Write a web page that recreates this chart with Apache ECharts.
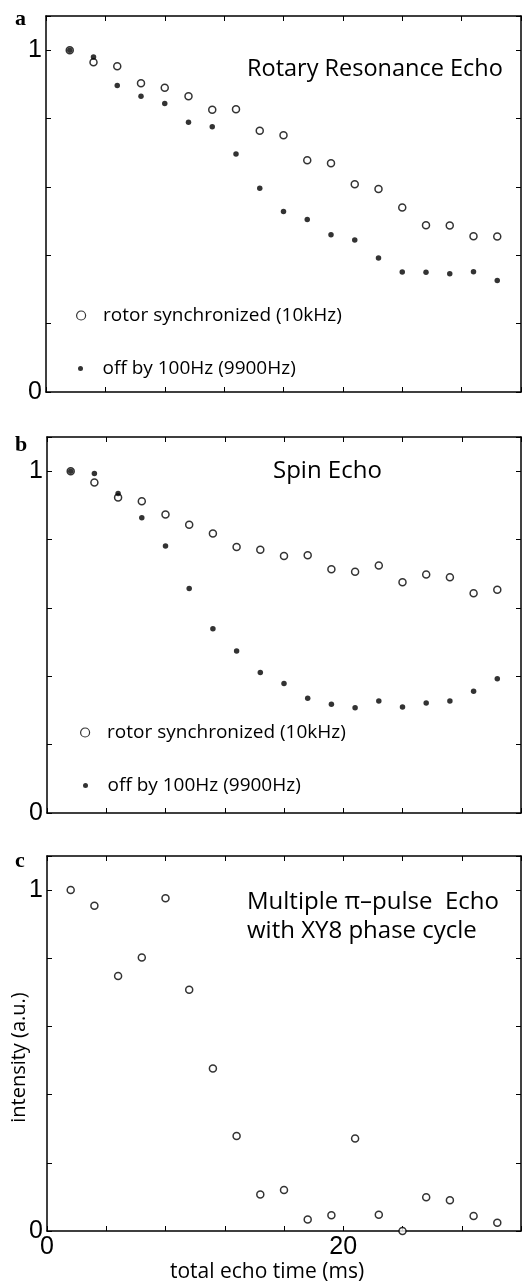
<!DOCTYPE html>
<html>
<head>
<meta charset="utf-8">
<script src="https://cdn.jsdelivr.net/npm/echarts@6/dist/echarts.min.js"></script>
<style>
  html, body { margin: 0; padding: 0; background: #fff; }
  #chart { width: 523px; height: 1283px; }
</style>
</head>
<body>
<div id="chart"></div>
<script>
// total echo time (ms)
const echoTime = [1.6, 3.2, 4.8, 6.4, 8.0, 9.6, 11.2, 12.8, 14.4, 16.0, 17.6, 19.2, 20.8, 22.4, 24.0, 25.6, 27.2, 28.8, 30.4];

// a: rotary resonance echo
const rreSync = [1.0, 0.965, 0.953, 0.903, 0.890, 0.865, 0.826, 0.827, 0.764, 0.751, 0.678, 0.669, 0.608, 0.594, 0.540, 0.488, 0.487, 0.456, 0.455];
const rreOff = [1.0, 0.980, 0.897, 0.865, 0.844, 0.789, 0.776, 0.696, 0.596, 0.528, 0.505, 0.460, 0.445, 0.392, 0.351, 0.350, 0.346, 0.352, 0.326];

// b: spin echo
const seSync = [1.0, 0.967, 0.923, 0.912, 0.873, 0.843, 0.818, 0.778, 0.770, 0.752, 0.754, 0.713, 0.706, 0.724, 0.675, 0.698, 0.690, 0.643, 0.653];
const seOff = [1.0, 0.993, 0.935, 0.864, 0.781, 0.657, 0.539, 0.474, 0.411, 0.379, 0.336, 0.318, 0.308, 0.328, 0.310, 0.322, 0.328, 0.356, 0.393];

// c: multiple pi-pulse echo, XY8
const xy8 = [1.0, 0.954, 0.748, 0.802, 0.976, 0.708, 0.477, 0.279, 0.107, 0.120, 0.034, 0.046, 0.271, 0.048, 0.0, 0.099, 0.090, 0.044, 0.024];

const syncName = "rotor synchronized (10kHz)";
const offName = "off by 100Hz (9900Hz)";
const xLabels = [0, 20];
const yLabels = [0, 1];

const pair = (ys) => echoTime.map((t, i) => [t, ys[i]]);
const near = (v, list) => list.some((l) => Math.abs(v - l) < 1e-6);

const sans = "Open Sans";
const lineStyle = { color: "#000", width: 1.5 };

const grids = [
  { left: 46, top: 16, width: 475, height: 376, outerBoundsMode: "none", containLabel: false },
  { left: 47, top: 437, width: 474, height: 376, outerBoundsMode: "none", containLabel: false },
  { left: 47, top: 856, width: 474, height: 375, outerBoundsMode: "none", containLabel: false },
];

const xAxes = [];
const yAxes = [];
grids.forEach((g, i) => {
  const last = i === 2;
  ["bottom", "top"].forEach((pos) => {
    xAxes.push({
      type: "value",
      gridIndex: i,
      position: pos,
      min: 0,
      max: 32,
      interval: 4,
      axisLine: { show: true, onZero: false, lineStyle: lineStyle },
      axisTick: { show: true, inside: true, length: 5, lineStyle: { color: "#000", width: 1 } },
      splitLine: { show: false },
      axisLabel: {
        show: last && pos === "bottom",
        margin: 4,
        color: "#000",
        fontFamily: "Liberation Sans",
        fontSize: 25,
        formatter: (v) => (near(v, xLabels) ? String(v) : ""),
      },
      name: last && pos === "bottom" ? "total echo time (ms)" : "",
      nameLocation: "middle",
      nameGap: 31,
      nameMoveOverlap: false,
      nameTextStyle: { color: "#000", fontFamily: sans, fontSize: 21, padding: [0, 34, 0, 0] },
    });
  });
  ["left", "right"].forEach((pos) => {
    yAxes.push({
      type: "value",
      gridIndex: i,
      position: pos,
      min: 0,
      max: 1.1,
      interval: 0.2,
      axisLine: { show: true, onZero: false, lineStyle: lineStyle },
      axisTick: { show: true, inside: true, length: 5, lineStyle: { color: "#000", width: 1 } },
      splitLine: { show: false },
      axisLabel: {
        show: pos === "left",
        margin: 4,
        color: "#000",
        fontFamily: "Liberation Sans",
        fontSize: 25,
        formatter: (v) => (near(v, yLabels) ? String(Math.round(v)) : ""),
      },
      name: last && pos === "left" ? "intensity (a.u.)" : "",
      nameLocation: "middle",
      nameGap: 18,
      nameMoveOverlap: false,
      nameTextStyle: { color: "#000", fontFamily: sans, fontSize: 20, padding: [0, 28, 0, 0] },
    });
  });
});

const openStyle = { color: "#fff", borderColor: "#000", borderWidth: 1.5 };
const dotStyle = { color: "#000" };

const openSeries = (name, ys, i) => ({
  name: name,
  type: "scatter",
  xAxisIndex: i * 2,
  yAxisIndex: i * 2,
  symbol: "circle",
  symbolSize: 7,
  itemStyle: openStyle,
  clip: false,
  data: pair(ys),
});
const dotSeries = (name, ys, i) => ({
  name: name,
  type: "scatter",
  xAxisIndex: i * 2,
  yAxisIndex: i * 2,
  symbol: "circle",
  symbolSize: 5.5,
  itemStyle: dotStyle,
  clip: false,
  data: pair(ys),
});

// left/top are tuned so the marker centre and text start land where the reference has them
const legendItem = (name, left, top, size, style) => ({
  data: [{ name: name, icon: "circle", itemStyle: style }],
  left: left,
  top: top,
  padding: 0,
  itemWidth: 34,
  itemHeight: size,
  selectedMode: false,
  textStyle: { color: "#000", fontFamily: sans, fontSize: 19 },
});

const titleText = (text, left, top, size, extra) => ({
  text: text,
  left: left,
  top: top,
  padding: 0,
  textStyle: Object.assign({ color: "#000", fontFamily: sans, fontWeight: "normal", fontSize: size }, extra || {}),
});
const serif = { fontFamily: "Liberation Serif", fontWeight: "bold" };

const option = {
  animation: false,
  backgroundColor: "#fff",
  grid: grids,
  xAxis: xAxes,
  yAxis: yAxes,
  title: [
    titleText("a", 15, 8, 22, serif),
    titleText("b", 15, 434, 22, serif),
    titleText("c", 15, 850, 22, serif),
    titleText("Rotary Resonance Echo", 247, 57, 23.5),
    titleText("Spin Echo", 273, 459, 24),
    titleText("Multiple \u03c0\u2013pulse  Echo\nwith XY8 phase cycle", 247, 888, 24, { lineHeight: 29 }),
  ],
  legend: [
    legendItem(syncName, 76, 306, 9, { color: "#fff", borderColor: "#000", borderWidth: 1.2 }),
    legendItem(offName, 78, 359, 5, dotStyle),
    legendItem(syncName, 80, 723, 9, { color: "#fff", borderColor: "#000", borderWidth: 1.2 }),
    legendItem(offName, 83, 776, 5, dotStyle),
  ],
  series: [
    openSeries(syncName, rreSync, 0),
    dotSeries(offName, rreOff, 0),
    openSeries(syncName, seSync, 1),
    dotSeries(offName, seOff, 1),
    openSeries("XY8", xy8, 2),
  ],
};

const chart = echarts.init(document.getElementById("chart"));
chart.setOption(option);
</script>
</body>
</html>
